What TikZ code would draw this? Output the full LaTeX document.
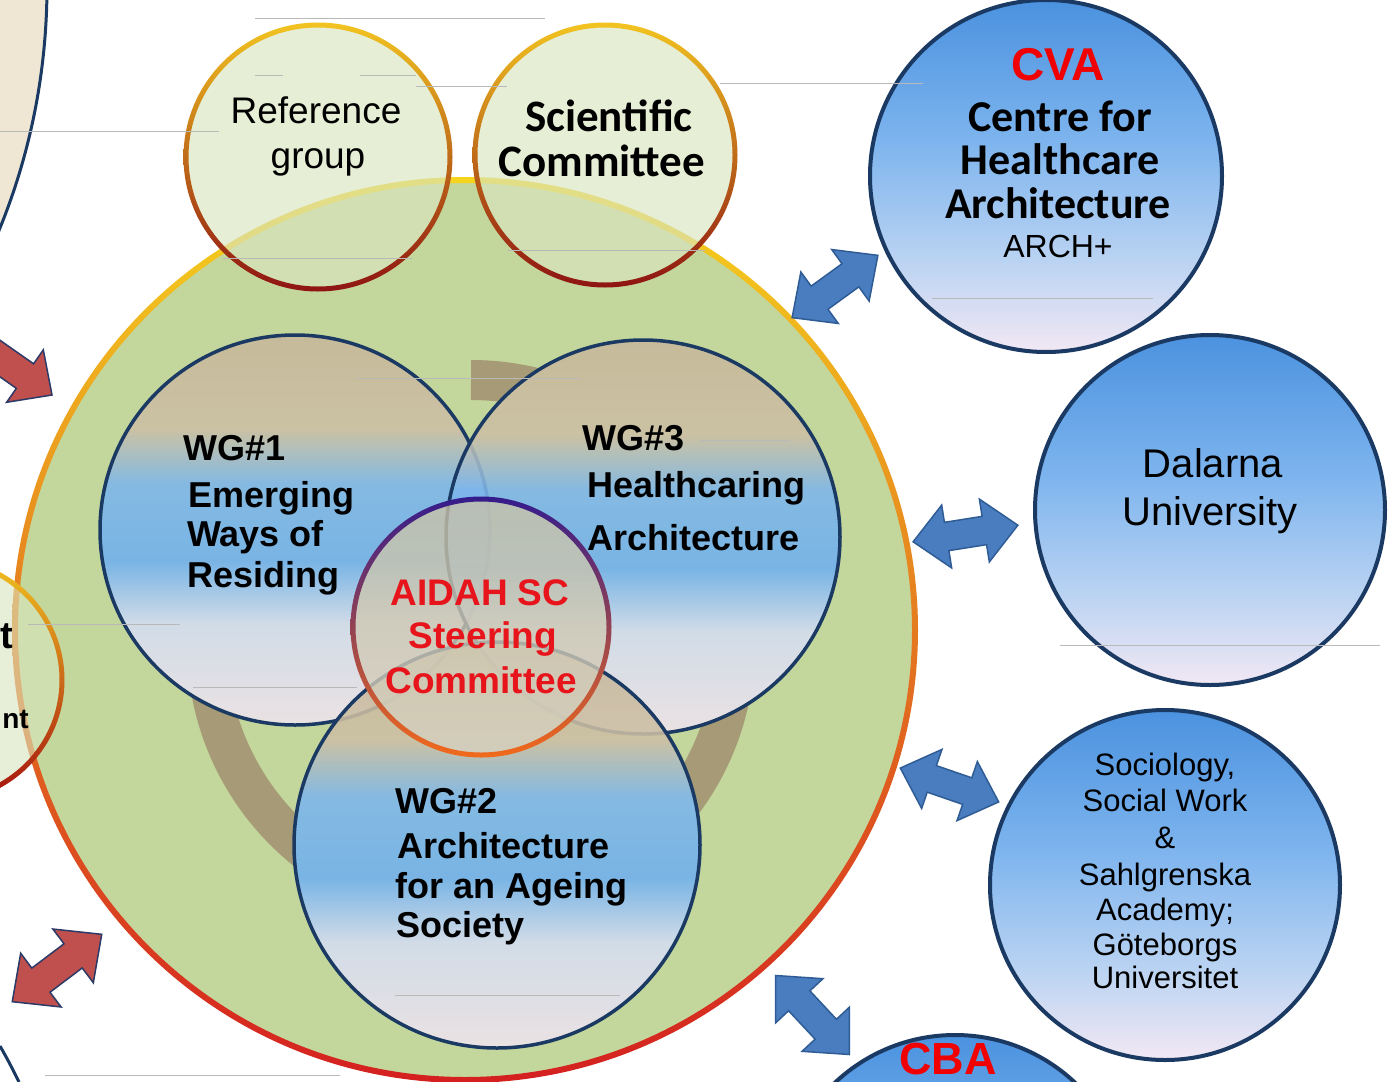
\documentclass[tikz,border=0pt]{standalone}
\usepackage{fontspec}
\setmainfont{Liberation Sans}
\newfontfamily\calfont{Carlito}
\usetikzlibrary{calc}
\definecolor{navy}{HTML}{1B3A63}
\definecolor{greenfill}{HTML}{C3D69B}
\definecolor{refgreen}{HTML}{D9E5BF}
\definecolor{beigec}{HTML}{EFE7D4}
\definecolor{bigtop}{HTML}{F5D41E}
\definecolor{bigmid}{HTML}{F2951F}
\definecolor{bigbot}{HTML}{D42020}
\definecolor{reftop}{HTML}{F2C420}
\definecolor{refmid}{HTML}{E8621E}
\definecolor{refbot}{HTML}{8E1412}
\definecolor{aidtopr}{HTML}{351C8C}
\definecolor{aidmidr}{HTML}{A41E8A}
\definecolor{aidbotr}{HTML}{F26A1B}
\definecolor{aidfilltop}{HTML}{C8C1A7}
\definecolor{aidfillbot}{HTML}{D6D0C0}
\definecolor{ringc}{HTML}{A39573}
\definecolor{bbot}{HTML}{F2E8F4}
\definecolor{bmidb}{HTML}{BAD3F2}
\definecolor{bmid}{HTML}{7DB4EE}
\definecolor{btop}{HTML}{4B92DF}
\definecolor{wbot}{HTML}{F0E4EE}
\definecolor{wlav}{HTML}{D4DDF2}
\definecolor{wblue}{HTML}{6FB0F0}
\definecolor{wblueb}{HTML}{7DB6EC}
\definecolor{wtan}{HTML}{CDBFA5}
\definecolor{wtanb}{HTML}{C6B79A}
\definecolor{arrblue}{HTML}{4A7DC0}
\definecolor{arrblued}{HTML}{2F5C94}
\definecolor{arrred}{HTML}{C0504D}
\definecolor{arrredd}{HTML}{2B3A67}
\definecolor{cvared}{HTML}{F00000}
\definecolor{aidred}{HTML}{E8141C}
\pgfdeclareverticalshading{blueball}{100bp}{color(0bp)=(bbot); color(25bp)=(bbot); color(38bp)=(bmidb); color(55bp)=(bmid); color(75bp)=(btop); color(100bp)=(btop)}
\pgfdeclareverticalshading{wgball}{100bp}{color(0bp)=(wbot); color(25bp)=(wbot); color(38bp)=(wlav); color(46bp)=(wblue); color(56bp)=(wblueb); color(63bp)=(wtan); color(75bp)=(wtanb); color(100bp)=(wtanb)}
\begin{document}
\begin{tikzpicture}[x=1pt,y=1pt,
  wg/.style={circle, inner sep=0, shade, shading=wgball, fill opacity=0.88, draw=navy, line width=3.5},
  bc/.style={circle, inner sep=0, shade, shading=blueball, draw=navy, line width=4},
  barrow/.style={fill=arrblue, draw=arrblued, line width=1.5},
  rarrow/.style={fill=arrred, draw=arrredd, line width=1.5},
  artline/.style={gray!55, line width=1},
  reft/.style={anchor=base, inner sep=0, font=\fontsize{37}{40}\selectfont},
  scit/.style={anchor=base, inner sep=0, font=\calfont\bfseries\fontsize{45}{50}\selectfont},
  cvat/.style={anchor=base, inner sep=0, font=\calfont\bfseries\fontsize{44}{48}\selectfont},
  redbig/.style={anchor=base, inner sep=0, text=cvared, font=\bfseries\fontsize{46}{50}\selectfont},
  archt/.style={anchor=base, inner sep=0, font=\fontsize{32}{36}\selectfont},
  dalt/.style={anchor=base, inner sep=0, font=\fontsize{40}{44}\selectfont},
  soct/.style={anchor=base, inner sep=0, font=\fontsize{31}{34}\selectfont},
  wgt/.style={anchor=base west, inner sep=0, font=\bfseries\fontsize{36}{40}\selectfont},
  aidt/.style={anchor=base, inner sep=0, text=aidred, font=\bfseries\fontsize{37}{40}\selectfont},
  dblarrow/.pic={\path[pic actions] (-1,0) -- (-0.36,0.6) -- (-0.36,0.27) -- (0.36,0.27) -- (0.36,0.6) -- (1,0) -- (0.36,-0.6) -- (0.36,-0.27) -- (-0.36,-0.27) -- (-0.36,-0.6) -- cycle;},
  sarrow/.pic={\path[pic actions] (0,0) -- (-33,32) -- (-33,15) -- (-140,15) -- (-140,-15) -- (-33,-15) -- (-33,-32) -- cycle;}
]
\useasboundingbox (0,-1082) rectangle (1390,0);
\clip (0,-1082) rectangle (1390,0);
\fill[white] (0,-1082) rectangle (1390,0);

% partial shapes at the left edge
\node[circle, minimum size=1288, inner sep=0, fill=beigec, draw=navy, line width=3] (tlblob) at (-597,14) {};
\coordinate (blA) at (0,-1046);
\coordinate (blB) at (19,-1082);
\draw[navy, line width=3] (blA) .. controls (9,-1062) .. (blB);

% big green circle
\node[circle, minimum size=900, inner sep=0, fill=greenfill] (big) at (465,-630) {};
\shade[top color=bigtop, middle color=bigmid, bottom color=bigbot, even odd rule]
  (big.center) circle[radius=453] (big.center) circle[radius=447];

% left partial circle
\node[circle, minimum size=240, inner sep=0, fill=refgreen, fill opacity=0.6] (leftc) at (-58,-680) {};
\shade[top color=reftop, middle color=refmid, bottom color=refbot!80!red, even odd rule]
  (leftc.center) circle[radius=122.5] (leftc.center) circle[radius=117.5];

% reference group and scientific committee
\node[circle, minimum size=264, inner sep=0, fill=refgreen, fill opacity=0.65] (refc) at (318,-157) {};
\shade[top color=reftop, middle color=refmid, bottom color=refbot, even odd rule]
  (refc.center) circle[radius=134.5] (refc.center) circle[radius=129.5];
\node[circle, minimum size=260, inner sep=0, fill=refgreen, fill opacity=0.65] (scic) at (605,-155) {};
\shade[top color=reftop, middle color=refmid, bottom color=refbot, even odd rule]
  (scic.center) circle[radius=132.5] (scic.center) circle[radius=127.5];

% working group positions
\coordinate (wg1c) at (295,-530);
\coordinate (wg3c) at (643,-537);
\coordinate (wg2c) at (497,-845);

% tan ring behind the working groups, visible only between them
\coordinate (ringo) at (471,-644);
\begin{scope}[even odd rule]
  \clip (0,0) rectangle (1390,-1082)
    (wg1c) circle[radius=194] (wg3c) circle[radius=196] (wg2c) circle[radius=202];
  \draw[ringc, line width=40, opacity=0.9] (ringo) ++(90:264) arc[start angle=90, end angle=-255, radius=264];
\end{scope}

% working groups
\node[wg, minimum size=390] (wg1) at (wg1c) {};
\node[wg, minimum size=394] (wg3) at (wg3c) {};
\node[wg, minimum size=406] (wg2) at (wg2c) {};

% steering committee
\node[circle, minimum size=256, inner sep=0, shade, top color=aidfilltop, bottom color=aidfillbot, fill opacity=0.8] (aidah) at (481,-627) {};
\shade[top color=aidtopr, middle color=aidmidr, bottom color=aidbotr, even odd rule]
  (aidah.center) circle[radius=130.5] (aidah.center) circle[radius=125.5];

% partner circles
\node[bc, minimum size=352] (cva) at (1046,-176) {};
\node[bc, minimum size=350] (dal) at (1210,-510) {};
\node[bc, minimum size=350] (soc) at (1165,-885) {};
\node[bc, minimum size=350] (cba) at (955,-1210) {};

% arrows
\pic[barrow, rotate=36, scale=53] at (835,-286.5) {dblarrow};
\pic[barrow, rotate=9, scale=53] at (965.5,-533.5) {dblarrow};
\pic[barrow, rotate=-19, scale=52] at (949.5,-785) {dblarrow};
\pic[barrow, rotate=-47, scale=54] at (812.5,-1015) {dblarrow};
\pic[rarrow, rotate=37, scale=56] at (57,-968) {dblarrow};
\pic[rarrow, rotate=-35] at (52,-395) {sarrow};

% texts
\node[anchor=base west, inner sep=0, font=\bfseries\fontsize{38}{40}\selectfont] (lt1) at (0,-648) {t};
\node[anchor=base east, inner sep=0, font=\bfseries\fontsize{28}{30}\selectfont] (lt2) at (29,-728) {nt};

\node[reft] (refA) at (316,-123) {Reference};
\node[reft] (refB) at (318,-168) {group};
\node[scit] (sciA) at (609,-131) {Scientific};
\node[scit] (sciB) at (602,-176) {Committee};

\node[redbig] (cvaT) at (1058,-80) {CVA};
\node[cvat] (cvaA) at (1060,-131) {Centre for};
\node[cvat] (cvaB) at (1060,-174) {Healthcare};
\node[cvat] (cvaC) at (1058,-218) {Architecture};
\node[archt] (cvaD) at (1058,-257) {ARCH+};

\node[dalt] (dalA) at (1213,-477) {Dalarna};
\node[dalt] (dalB) at (1210,-525) {University};

\node[soct] (socA) at (1165,-775) {Sociology,};
\node[soct] (socB) at (1165,-811) {Social Work};
\node[soct] (socC) at (1165,-848) {\&};
\node[soct] (socD) at (1165,-885) {Sahlgrenska};
\node[soct] (socE) at (1165,-920) {Academy;};
\node[soct] (socF) at (1165,-955) {Göteborgs};
\node[soct] (socG) at (1165,-988) {Universitet};

\node[redbig, font=\bfseries\fontsize{45}{50}\selectfont] (cbaT) at (948,-1074) {CBA};

\node[wgt] (wg1a) at (183,-460) {WG\#1};
\node[wgt] (wg1b) at (188,-507) {Emerging};
\node[wgt] (wg1c2) at (187,-546) {Ways of};
\node[wgt] (wg1d) at (187,-587) {Residing};

\node[wgt] (wg3a) at (582,-450) {WG\#3};
\node[wgt] (wg3b) at (587,-497) {Healthcaring};
\node[wgt] (wg3c2) at (587,-550) {Architecture};

\node[wgt] (wg2a) at (395,-813) {WG\#2};
\node[wgt] (wg2b) at (397,-858) {Architecture};
\node[wgt] (wg2c2) at (395,-898) {for an Ageing};
\node[wgt] (wg2d) at (396,-937) {Society};

\node[aidt] (aidA) at (480,-605) {AIDAH SC};
\node[aidt] (aidB) at (483,-648) {Steering};
\node[aidt] (aidC) at (481,-693) {Committee};

% faint horizontal lines of the source slide
\draw[artline] (255,-18) -- (545,-18);
\draw[artline] (255,-75) -- (283,-75);
\draw[artline] (360,-75) -- (416,-75);
\draw[artline] (416,-86) -- (507,-86);
\draw[artline] (720,-83) -- (923,-83);
\draw[artline] (0,-131) -- (219,-131);
\draw[artline] (223,-258) -- (412,-258);
\draw[artline] (507,-250) -- (705,-250);
\draw[artline] (932,-298) -- (1153,-298);
\draw[artline] (355,-378) -- (580,-378);
\draw[artline] (700,-440) -- (790,-440);
\draw[artline] (28,-624) -- (180,-624);
\draw[artline] (193,-687) -- (357,-687);
\draw[artline] (1060,-645) -- (1380,-645);
\draw[artline] (395,-995) -- (620,-995);
\draw[artline] (45,-1075) -- (340,-1075);
\end{tikzpicture}
\end{document}
